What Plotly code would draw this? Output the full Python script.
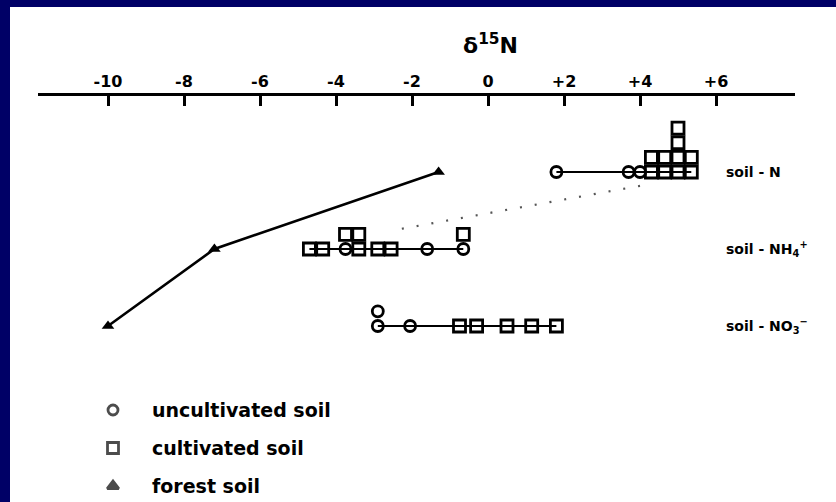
import plotly.graph_objects as go

# ---------------- data ----------------
row_labels = ["soil - N", "soil - NH<sub>4</sub><sup>+</sup>", "soil - NO<sub>3</sub><sup>−</sup>"]
row_pos = [3, 2, 1]

uncultivated = {
    3: [1.8, 3.7, 4.0],
    2: [-3.75, -1.6, -0.65],
    1: [-2.9, -2.9, -2.05],
}
cultivated = {
    3: [4.3, 4.3, 4.65, 4.65, 5.0, 5.0, 5.0, 5.0, 5.35, 5.35],
    2: [-4.7, -4.35, -3.75, -3.4, -3.4, -2.9, -2.55, -0.65],
    1: [-0.75, -0.3, 0.5, 1.15, 1.8],
}
forest_x = [-1.3, -7.2, -10.0]
forest_y = [3, 2, 1]

link_x = [4.0, -2.3]
link_y = [2.82, 2.26]

tick_vals = [-10, -8, -6, -4, -2, 0, 2, 4, 6]
tick_text = ["-10", "-8", "-6", "-4", "-2", "0", "+2", "+4", "+6"]
legend_labels = ["uncultivated soil", "cultivated soil", "forest soil"]
legend_symbols = ["circle-open", "square-open", "triangle-up"]

# ---------------- layout helpers ----------------
W, H = 836, 502
STEP = 0.19
FONT = "DejaVu Sans"

fig = go.Figure()

# stacked dot positions
unc_x, unc_y, cul_x, cul_y = [], [], [], []
for r in row_pos:
    seen = {}
    for v in uncultivated[r]:
        lvl = seen.get(v, 0); seen[v] = lvl + 1
        unc_x.append(v); unc_y.append(r + lvl * STEP)
    for v in cultivated[r]:
        lvl = seen.get(v, 0); seen[v] = lvl + 1
        cul_x.append(v); cul_y.append(r + lvl * STEP)
    allv = uncultivated[r] + cultivated[r]
    fig.add_trace(go.Scatter(x=[min(allv), max(allv)], y=[r, r], mode="lines",
                             line=dict(color="black", width=2), showlegend=False, hoverinfo="skip"))

# dotted link
fig.add_trace(go.Scatter(x=link_x, y=link_y, mode="lines",
                         line=dict(color="#555", width=2.2, dash="2px,13px"),
                         showlegend=False, hoverinfo="skip"))

# forest soil
fig.add_trace(go.Scatter(x=forest_x, y=forest_y, mode="lines+markers",
                         line=dict(color="black", width=2.6),
                         marker=dict(symbol="triangle-up", size=11, color="black"),
                         showlegend=False))

fig.add_trace(go.Scatter(x=unc_x, y=unc_y, mode="markers",
                         marker=dict(symbol="circle-open", size=11, color="black",
                                     line=dict(width=2.8)), showlegend=False))
fig.add_trace(go.Scatter(x=cul_x, y=cul_y, mode="markers",
                         marker=dict(symbol="square-open", size=12, color="black",
                                     line=dict(width=2.8)), showlegend=False))

# legend keys (separate full-page axes in pixel space)
leg_y = [410, 448, 486]
fig.add_trace(go.Scatter(x=[113] * 3, y=leg_y, mode="markers", xaxis="x2", yaxis="y2",
                         marker=dict(symbol=legend_symbols, size=[10, 11, 10], color="black",
                                     line=dict(width=2.8, color="black")),
                         showlegend=False, hoverinfo="skip"))

annotations = []
for lab, yy in zip(legend_labels, leg_y):
    annotations.append(dict(x=150 / W, y=1 - yy / H, xref="paper", yref="paper",
                            text=lab, showarrow=False, xanchor="left", yanchor="middle",
                            font=dict(family=FONT, size=19, color="black", weight="bold")))
for lab, r in zip(row_labels, row_pos):
    annotations.append(dict(x=724 / W, y=r, xref="paper", yref="y",
                            text=lab, showarrow=False, xanchor="left", yanchor="middle",
                            font=dict(family=FONT, size=14, color="black", weight="bold")))
annotations.append(dict(x=490 / W, y=1 - 44 / H, xref="paper", yref="paper",
                        text="δ<sup>15</sup>N", showarrow=False, xanchor="center", yanchor="middle",
                        font=dict(family=FONT, size=22, color="black", weight="bold")))

x0, x1 = 38, 795
px_per_unit = 38.0
zero_px = 488
fig.update_layout(
    width=W, height=H,
    margin=dict(l=0, r=0, t=0, b=0),
    paper_bgcolor="white", plot_bgcolor="rgba(0,0,0,0)",
    showlegend=False,
    xaxis=dict(domain=[x0 / W, x1 / W],
               range=[(x0 - zero_px) / px_per_unit, (x1 - zero_px) / px_per_unit],
               side="top", anchor="free", position=1 - 94 / H,
               showline=True, linecolor="black", linewidth=3,
               ticks="inside", ticklen=10, tickwidth=3, tickcolor="black",
               tickvals=tick_vals, ticktext=tick_text,
               tickfont=dict(family=FONT, size=16, color="black", weight="bold"),
               showgrid=False, zeroline=False, fixedrange=True),
    yaxis=dict(domain=[0, 1], range=[3 - (H - 172) / 77.0, 3 + 172 / 77.0],
               visible=False, showgrid=False, zeroline=False, fixedrange=True),
    xaxis2=dict(domain=[0, 1], range=[0, W], anchor="y2", visible=False, fixedrange=True),
    yaxis2=dict(domain=[0, 1], range=[H, 0], anchor="x2", visible=False, fixedrange=True),
    annotations=annotations,
    shapes=[
        dict(type="rect", xref="paper", yref="paper", x0=0, x1=10 / W, y0=0, y1=1,
             fillcolor="#000066", line=dict(width=0), layer="above"),
        dict(type="rect", xref="paper", yref="paper", x0=0, x1=1, y0=1 - 7 / H, y1=1,
             fillcolor="#000066", line=dict(width=0), layer="above"),
    ],
)

fig.write_html("out.html")
